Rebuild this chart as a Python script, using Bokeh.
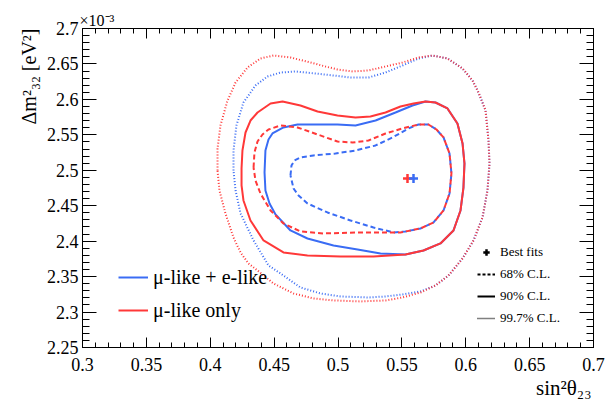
import numpy as np
from bokeh.plotting import figure
from bokeh.models import (Range1d, LinearAxis, FixedTicker, CustomJSTickFormatter,
                          Legend, LegendItem, Title)
from bokeh.embed import file_html
from bokeh.resources import INLINE

# ---------------- data (sin^2 theta23, dm^2_32 in units of 1e-3 eV^2) ----------------
# mu-like only, 99.7% C.L.
mu_997_x = [0.4057, 0.4057, 0.4080, 0.4135, 0.4198, 0.4292, 0.4393, 0.4495, 0.4628, 0.4785,
            0.4902, 0.4996, 0.5114, 0.5239, 0.5372, 0.5505, 0.5630, 0.5740, 0.5857, 0.5975,
            0.6053, 0.6100, 0.6155, 0.6178, 0.6186, 0.6170, 0.6131, 0.6061, 0.5975, 0.5865,
            0.5763, 0.5646, 0.5505, 0.5372, 0.5176, 0.4965, 0.4808, 0.4652, 0.4495, 0.4370,
            0.4299, 0.4237, 0.4182, 0.4119, 0.4072, 0.4057]
mu_997_y = [2.4997, 2.5307, 2.5632, 2.5984, 2.6238, 2.6450, 2.6577, 2.6619, 2.6591, 2.6520,
            2.6464, 2.6422, 2.6394, 2.6408, 2.6464, 2.6520, 2.6591, 2.6619, 2.6577, 2.6436,
            2.6267, 2.6097, 2.5843, 2.5420, 2.5096, 2.4715, 2.4334, 2.4010, 2.3756, 2.3516,
            2.3375, 2.3276, 2.3206, 2.3164, 2.3150, 2.3164, 2.3192, 2.3262, 2.3403, 2.3587,
            2.3685, 2.3841, 2.4052, 2.4391, 2.4715, 2.4997]

# mu-like + e-like, 99.7% C.L.
mue_997_x = [0.4182, 0.4182, 0.4205, 0.4260, 0.4354, 0.4448, 0.4550, 0.4667, 0.4824, 0.4965,
             0.5098, 0.5239, 0.5372, 0.5505, 0.5630, 0.5740, 0.5857, 0.5975, 0.6053, 0.6100,
             0.6155, 0.6178, 0.6186, 0.6170, 0.6131, 0.6061, 0.5975, 0.5865, 0.5763, 0.5646,
             0.5505, 0.5372, 0.5239, 0.5020, 0.4863, 0.4706, 0.4550, 0.4456, 0.4339, 0.4237,
             0.4198, 0.4182]
mue_997_y = [2.4997, 2.5279, 2.5632, 2.5956, 2.6196, 2.6323, 2.6379, 2.6394, 2.6365, 2.6337,
             2.6309, 2.6309, 2.6379, 2.6478, 2.6577, 2.6619, 2.6577, 2.6436, 2.6267, 2.6097,
             2.5843, 2.5420, 2.5096, 2.4715, 2.4334, 2.4010, 2.3756, 2.3516, 2.3375, 2.3291,
             2.3248, 2.3220, 2.3206, 2.3220, 2.3262, 2.3347, 2.3544, 2.3657, 2.4010, 2.4391,
             2.4715, 2.4997]

# mu-like only, 90% C.L.
mu_90_x = [0.4245, 0.4252, 0.4276, 0.4315, 0.4370, 0.4472, 0.4566, 0.4706, 0.4840, 0.4996,
           0.5137, 0.5254, 0.5372, 0.5489, 0.5591, 0.5685, 0.5763, 0.5857, 0.5935, 0.5975,
           0.5990, 0.5982, 0.5959, 0.5904, 0.5802, 0.5669, 0.5528, 0.5278, 0.5020, 0.4761,
           0.4573, 0.4417, 0.4315, 0.4260, 0.4245, 0.4245]
mu_90_y = [2.5025, 2.5279, 2.5533, 2.5702, 2.5815, 2.5942, 2.5970, 2.5914, 2.5829, 2.5773,
           2.5745, 2.5759, 2.5815, 2.5900, 2.5942, 2.5970, 2.5956, 2.5872, 2.5660, 2.5378,
           2.5096, 2.4757, 2.4433, 2.4151, 2.3968, 2.3869, 2.3812, 2.3784, 2.3784, 2.3798,
           2.3841, 2.4010, 2.4292, 2.4574, 2.4786, 2.5025]

# mu-like + e-like, 90% C.L.
mue_90_x = [0.4425, 0.4432, 0.4456, 0.4487, 0.4573, 0.4683, 0.4840, 0.4996, 0.5137, 0.5294,
            0.5450, 0.5583, 0.5685, 0.5763, 0.5857, 0.5935, 0.5975, 0.5990, 0.5982, 0.5959,
            0.5904, 0.5802, 0.5669, 0.5528, 0.5333, 0.5153, 0.4965, 0.4761, 0.4628, 0.4511,
            0.4464, 0.4432, 0.4425]
mue_90_y = [2.4969, 2.5279, 2.5434, 2.5519, 2.5604, 2.5646, 2.5646, 2.5646, 2.5632, 2.5702,
            2.5815, 2.5914, 2.5970, 2.5956, 2.5872, 2.5660, 2.5378, 2.5096, 2.4757, 2.4433,
            2.4151, 2.3968, 2.3869, 2.3812, 2.3827, 2.3883, 2.3939, 2.4038, 2.4151, 2.4377,
            2.4532, 2.4715, 2.4969]

# mu-like only, 68% C.L.
mu_68_x = [0.4339, 0.4346, 0.4370, 0.4409, 0.4456, 0.4550, 0.4683, 0.4840, 0.4996, 0.5114,
           0.5239, 0.5372, 0.5505, 0.5630, 0.5708, 0.5771, 0.5826, 0.5873, 0.5888, 0.5873,
           0.5826, 0.5748, 0.5646, 0.5489, 0.5356, 0.5153, 0.4886, 0.4706, 0.4573, 0.4472,
           0.4393, 0.4354, 0.4339]
mu_68_y = [2.5039, 2.5251, 2.5406, 2.5505, 2.5575, 2.5632, 2.5604, 2.5505, 2.5406, 2.5392,
           2.5420, 2.5519, 2.5590, 2.5646, 2.5646, 2.5575, 2.5463, 2.5237, 2.4955, 2.4673,
           2.4433, 2.4264, 2.4179, 2.4123, 2.4123, 2.4123, 2.4109, 2.4137, 2.4250, 2.4433,
           2.4673, 2.4856, 2.5039]

# mu-like + e-like, 68% C.L.
mue_68_x = [0.4628, 0.4636, 0.4659, 0.4706, 0.4808, 0.4980, 0.5137, 0.5294, 0.5427, 0.5552,
            0.5630, 0.5708, 0.5771, 0.5826, 0.5873, 0.5888, 0.5873, 0.5826, 0.5748, 0.5646,
            0.5528, 0.5434, 0.5278, 0.5098, 0.4918, 0.4761, 0.4691, 0.4652, 0.4628]
mue_68_y = [2.4927, 2.5068, 2.5138, 2.5181, 2.5209, 2.5237, 2.5279, 2.5350, 2.5463, 2.5590,
            2.5646, 2.5646, 2.5575, 2.5463, 2.5237, 2.4955, 2.4673, 2.4433, 2.4264, 2.4179,
            2.4137, 2.4123, 2.4193, 2.4292, 2.4405, 2.4532, 2.4645, 2.4743, 2.4927]

# best fits
best_mu_x, best_mu_y = [0.5544], [2.4884]
best_mue_x, best_mue_y = [0.5591], [2.4884]

x_ticks = [0.3, 0.35, 0.4, 0.45, 0.5, 0.55, 0.6, 0.65, 0.7]
y_ticks = [2.25, 2.3, 2.35, 2.4, 2.45, 2.5, 2.55, 2.6, 2.65, 2.7]

RED = "#ff3838"
BLUE = "#3a6cf4"
FONT = "Liberation Serif"

x_minor = [float(v) for v in np.round(np.arange(0.30, 0.7001, 0.01), 3)]
y_minor = [float(v) for v in np.round(np.arange(2.25, 2.7001, 0.01), 3)]

p = figure(width=611, height=403, output_backend="svg", toolbar_location=None,
           x_range=Range1d(0.3, 0.7), y_range=Range1d(2.25, 2.7),
           x_axis_type=None, y_axis_type=None,
           min_border_left=82, min_border_right=18, min_border_top=28, min_border_bottom=56)
p.background_fill_color = "white"
p.border_fill_color = "white"
p.outline_line_color = "black"
p.outline_line_width = 1
p.xgrid.visible = False
p.ygrid.visible = False

# exponent of the y axis as the (left aligned) title
p.title.text = "×10⁻³"
p.title.align = "left"
p.title.offset = -3
p.title.standoff = 0
p.title.text_font = FONT
p.title.text_font_size = "16px"
p.title.text_font_style = "normal"
p.title.text_color = "black"

fmt = CustomJSTickFormatter(code="return String(Math.round(tick*1000)/1000);")
blank = CustomJSTickFormatter(code="return '';")


def make_axis(ticks, minor, maj, mnr, labels, standoff=4):
    ax = LinearAxis(ticker=FixedTicker(ticks=ticks, minor_ticks=minor))
    ax.major_tick_in = maj
    ax.major_tick_out = 0
    ax.minor_tick_in = mnr
    ax.minor_tick_out = 0
    ax.axis_line_color = "black"
    ax.major_tick_line_color = "black"
    ax.minor_tick_line_color = "black"
    if labels:
        ax.formatter = fmt
        ax.major_label_text_font = FONT
        ax.major_label_text_font_size = "18px"
        ax.major_label_text_color = "black"
        ax.major_label_standoff = standoff
    else:
        ax.formatter = blank
        ax.major_label_text_font_size = "0px"
        ax.major_label_standoff = 0
    return ax


p.add_layout(make_axis(x_ticks, x_minor, 10, 5, True, standoff=10), "below")
p.add_layout(make_axis(y_ticks, y_minor, 14, 7, True, standoff=4), "left")
p.add_layout(make_axis(x_ticks, x_minor, 10, 5, False), "above")
p.add_layout(make_axis(y_ticks, y_minor, 14, 7, False), "right")

# axis titles, placed at the ends of the axes (ROOT style)
p.add_layout(Title(text="sin²θ₂₃", align="right", offset=2, standoff=0,
                   text_font=FONT, text_font_size="21px", text_font_style="normal",
                   text_color="black"), "below")
p.add_layout(Title(text="Δm²₃₂ [eV²]", align="right", offset=0, standoff=8,
                   text_font=FONT, text_font_size="20px", text_font_style="normal",
                   text_color="black"), "left")

LW = 2
r_b997 = p.line(mue_997_x, mue_997_y, line_color=BLUE, line_width=LW, line_dash="1 2")
r_r997 = p.line(mu_997_x, mu_997_y, line_color=RED, line_width=LW, line_dash="1 2")
r_b90 = p.line(mue_90_x, mue_90_y, line_color=BLUE, line_width=LW)
r_r90 = p.line(mu_90_x, mu_90_y, line_color=RED, line_width=LW)
r_b68 = p.line(mue_68_x, mue_68_y, line_color=BLUE, line_width=LW, line_dash="5 3")
r_r68 = p.line(mu_68_x, mu_68_y, line_color=RED, line_width=LW, line_dash="5 3")

p.scatter(best_mu_x, best_mu_y, marker="cross", size=9, line_color=RED, line_width=2.5)
p.scatter(best_mue_x, best_mue_y, marker="cross", size=9, line_color=BLUE, line_width=2.5)

# legend-only black renderers (a single NaN point draws nothing on the plot)
nan = [float("nan")]
d_best = p.scatter(nan, nan, marker="cross", size=8, line_color="black", line_width=2.5)
d_68 = p.line(nan, nan, line_color="black", line_width=2, line_dash="3 2")
d_90 = p.line(nan, nan, line_color="black", line_width=2)
d_997 = p.line(nan, nan, line_color="black", line_width=1.5, line_dash="1 1")

leg1 = Legend(items=[LegendItem(label="μ-like + e-like", renderers=[r_b90]),
                     LegendItem(label="μ-like only", renderers=[r_r90])],
              location=(36, 25), glyph_width=30, glyph_height=24, label_height=24,
              label_standoff=5, spacing=9, padding=0, margin=0,
              border_line_alpha=0, background_fill_alpha=0,
              label_text_font=FONT, label_text_font_size="20px", label_text_color="black")
leg2 = Legend(items=[LegendItem(label="Best fits", renderers=[d_best]),
                     LegendItem(label="68% C.L.", renderers=[d_68]),
                     LegendItem(label="90% C.L.", renderers=[d_90]),
                     LegendItem(label="99.7% C.L.", renderers=[d_997])],
              location=(395, 21), glyph_width=18, glyph_height=16, label_height=16,
              label_standoff=5, spacing=6, padding=0, margin=0,
              border_line_alpha=0, background_fill_alpha=0,
              label_text_font=FONT, label_text_font_size="13px", label_text_color="black")
p.add_layout(leg1, "center")
p.add_layout(leg2, "center")

open("out.html", "w").write(file_html(p, INLINE))
